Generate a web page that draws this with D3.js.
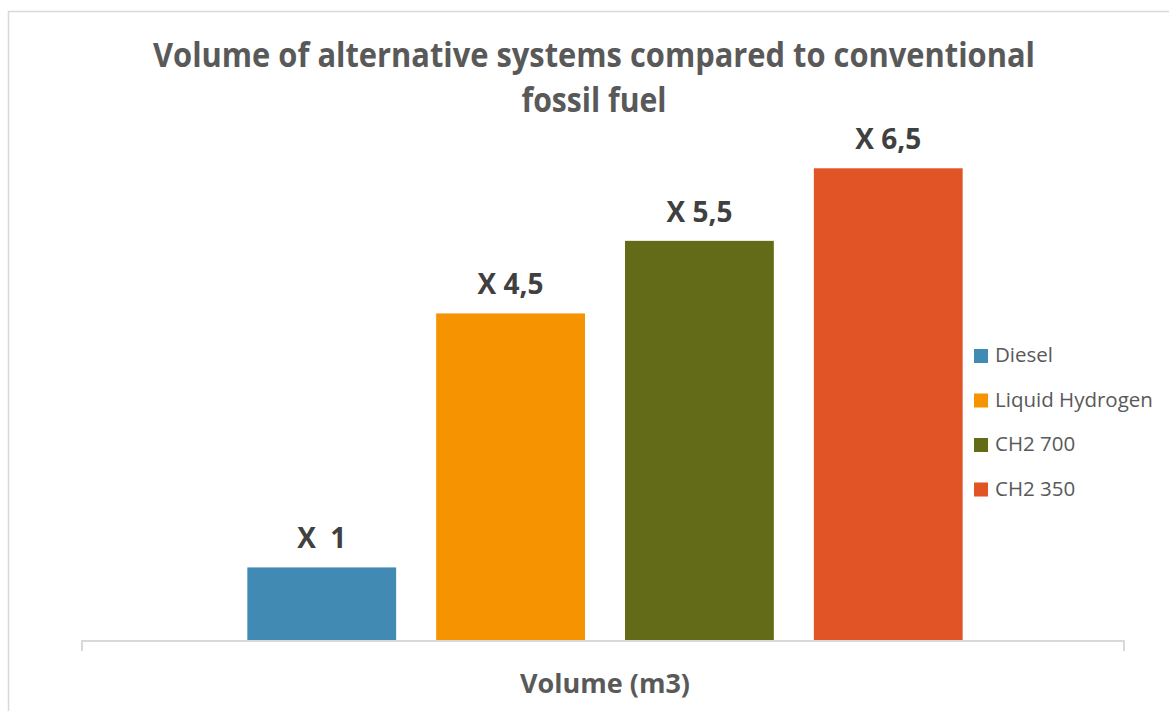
<!DOCTYPE html>
<html>
<head>
<meta charset="utf-8">
<script src="https://cdn.jsdelivr.net/npm/d3@7"></script>
<style>
  html, body { margin: 0; padding: 0; background: #fff; }
  svg { display: block; font-family: "Open Sans", sans-serif; }
</style>
</head>
<body>
<svg id="chart" width="1169" height="711"></svg>
<script>
// Fuel storage systems and their volume relative to diesel
const series = ["Diesel", "Liquid Hydrogen", "CH2 700", "CH2 350"];
const volumeFactor = [1, 4.5, 5.5, 6.5];
const valueLabels = ["X  1", "X 4,5", "X 5,5", "X 6,5"];
const barColors = ["#418ab3", "#f59300", "#646b18", "#e05426"];
const titleLines = ["Volume of alternative systems compared to conventional", "fossil fuel"];
const categoryTitle = "Volume (m3)";

const svg = d3.select("#chart");

// Outer chart frame
svg.append("rect")
  .attr("x", 8.5).attr("y", 11.5)
  .attr("width", 1200).attr("height", 760)
  .attr("fill", "#fff")
  .attr("stroke", "#d9d9d9")
  .attr("stroke-width", 1.5);

const plot = { left: 82, right: 1124, top: 132, bottom: 640 };

const x = d3.scaleBand()
  .domain(series)
  .range([plot.left + 2, plot.right + 2])
  .paddingInner(0.212)
  .paddingOuter(0.865);

const y = d3.scaleLinear()
  .domain([0, 7])
  .range([plot.bottom, plot.top]);

const data = series.map((s, i) => ({ name: s, value: volumeFactor[i], label: valueLabels[i], color: barColors[i] }));

// Bars
svg.append("g").selectAll("rect")
  .data(data)
  .join("rect")
  .attr("x", d => x(d.name))
  .attr("y", d => y(d.value))
  .attr("width", x.bandwidth())
  .attr("height", d => y(0) - y(d.value))
  .attr("fill", d => d.color);

// Category axis with end ticks only
const axis = svg.append("g").attr("transform", `translate(0,${plot.bottom + 1})`);
axis.append("path")
  .attr("d", `M${plot.left},10 V0 H${plot.right} V10`)
  .attr("fill", "none")
  .attr("stroke", "#d9d9d9")
  .attr("stroke-width", 2);

// Value labels above bars
svg.append("g").selectAll("text")
  .data(data)
  .join("text")
  .attr("x", d => x(d.name) + x.bandwidth() / 2)
  .attr("y", d => y(d.value) - 19)
  .attr("text-anchor", "middle")
  .attr("font-size", 28)
  .attr("font-weight", 700)
  .attr("fill", "#404040")
  .style("white-space", "pre")
  .text(d => d.label);

// Title, set in a condensed width
const titleWidths = [882, 145];
svg.append("g").selectAll("text")
  .data(titleLines)
  .join("text")
  .attr("x", 594)
  .attr("y", (d, i) => 67 + i * 45)
  .attr("text-anchor", "middle")
  .attr("font-size", 34)
  .attr("font-weight", 700)
  .attr("fill", "#595959")
  .attr("textLength", (d, i) => titleWidths[i])
  .attr("lengthAdjust", "spacingAndGlyphs")
  .text(d => d);

// Category axis title
svg.append("text")
  .attr("x", 605)
  .attr("y", 693)
  .attr("text-anchor", "middle")
  .attr("font-size", 27)
  .attr("font-weight", 700)
  .attr("fill", "#595959")
  .text(categoryTitle);

// Legend
const legend = svg.append("g").attr("transform", "translate(974,349)");
const item = legend.selectAll("g")
  .data(data)
  .join("g")
  .attr("transform", (d, i) => `translate(0,${i * 44.5})`);
item.append("rect")
  .attr("width", 14).attr("height", 14)
  .attr("fill", d => d.color);
item.append("text")
  .attr("x", 21)
  .attr("y", 13)
  .attr("font-size", 20.5)
  .attr("fill", "#595959")
  .text(d => d.name);
</script>
</body>
</html>
